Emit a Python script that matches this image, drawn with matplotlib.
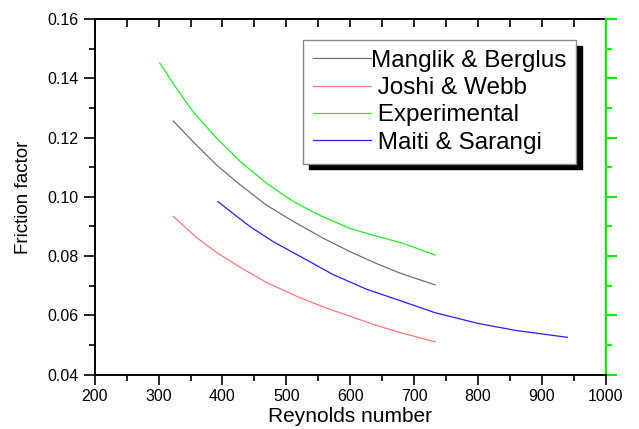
import numpy as np
import matplotlib.pyplot as plt

plt.rcParams['font.family'] = ['Liberation Sans', 'DejaVu Sans']

# ---------------------------------------------------------
# Friction factor vs Reynolds number (correlations + experiment)
# ---------------------------------------------------------
re_manglik = [323, 354, 391, 428, 469, 511, 558, 600, 640, 680, 733]
f_manglik = [0.1256, 0.1186, 0.1107, 0.1040, 0.0972, 0.0917, 0.0860, 0.0815, 0.0776, 0.0741, 0.0703]

re_joshi = [323, 360, 391, 428, 469, 521, 560, 600, 640, 680, 733]
f_joshi = [0.0934, 0.0862, 0.0812, 0.0762, 0.0711, 0.0660, 0.0627, 0.0597, 0.0567, 0.0541, 0.0511]

re_exp = [302, 328, 354, 391, 428, 469, 511, 552, 600, 640, 680, 733]
f_exp = [0.1451, 0.1366, 0.1287, 0.1198, 0.1119, 0.1046, 0.0984, 0.0938, 0.0893, 0.0868, 0.0845, 0.0804]

re_maiti = [393, 420, 443, 480, 521, 573, 626, 678, 733, 800, 860, 940]
f_maiti = [0.0984, 0.0938, 0.0900, 0.0848, 0.0800, 0.0738, 0.0688, 0.0650, 0.0609, 0.0573, 0.0549, 0.0526]

fig = plt.figure(figsize=(6.39, 4.29), dpi=100)
ax = fig.add_axes([0.1482, 0.1266, 0.7997, 0.8291])

ax.plot(re_manglik, f_manglik, color='#707070', lw=0.9, label='Manglik & Berglus')
ax.plot(re_joshi, f_joshi, color='#ff7878', lw=0.9, label=' Joshi & Webb')
ax.plot(re_exp, f_exp, color='#22ee22', lw=0.9, label=' Experimental')
ax.plot(re_maiti, f_maiti, color='#2020ff', lw=0.9, label=' Maiti & Sarangi')

ax.set_xlim(200, 1000)
ax.set_ylim(0.04, 0.16)
ax.set_xticks(np.arange(200, 1001, 100))
ax.set_xticks(np.arange(250, 1000, 100), minor=True)
ax.set_yticks(np.arange(0.04, 0.161, 0.02))
ax.set_yticks(np.arange(0.05, 0.16, 0.02), minor=True)
ax.yaxis.set_major_formatter(plt.FormatStrFormatter('%.2f'))

ax.tick_params(which='both', direction='out', width=1.2, labelsize=11.5, top=False, right=False)
ax.tick_params(axis='x', which='major', length=7)
ax.tick_params(axis='x', which='minor', length=4)
ax.tick_params(axis='y', which='major', length=8)
ax.tick_params(axis='y', which='minor', length=4.5)

for s in ['left', 'bottom']:
    ax.spines[s].set_linewidth(1.4)
ax.spines['top'].set_visible(False)
ax.spines['right'].set_visible(False)

# top axis: inward ticks every 50
top = ax.secondary_xaxis('top')
top.set_xticks(np.arange(200, 1001, 50))
top.tick_params(direction='in', length=6, width=1.2, labeltop=False)
top.spines['top'].set_linewidth(1.4)

# right axis in green, no labels
right = ax.secondary_yaxis('right')
right.set_yticks(np.arange(0.04, 0.161, 0.02))
right.set_yticks(np.arange(0.05, 0.16, 0.02), minor=True)
right.tick_params(which='both', direction='out', width=1.4, color='#00ee00', labelright=False)
right.tick_params(which='major', length=8)
right.tick_params(which='minor', length=4.5)
right.spines['right'].set_color('#00ee00')
right.spines['right'].set_linewidth(1.6)

ax.set_xlabel('Reynolds number', fontsize=15, labelpad=2)
ax.set_ylabel('Friction factor', fontsize=13.5, labelpad=11)

leg = ax.legend(loc='upper left', bbox_to_anchor=(303 / 639, 1 - 40 / 429),
                bbox_transform=fig.transFigure, borderaxespad=0,
                fontsize=17.5, handlelength=2.4, handletextpad=0,
                labelspacing=0.22, borderpad=0.4, fancybox=False,
                framealpha=1, edgecolor='#888888',
                shadow={'ox': 4, 'oy': -4, 'facecolor': 'black',
                        'edgecolor': 'black', 'alpha': 1})
leg.get_frame().set_linewidth(1.0)

fig.savefig('out.png', dpi=100)
